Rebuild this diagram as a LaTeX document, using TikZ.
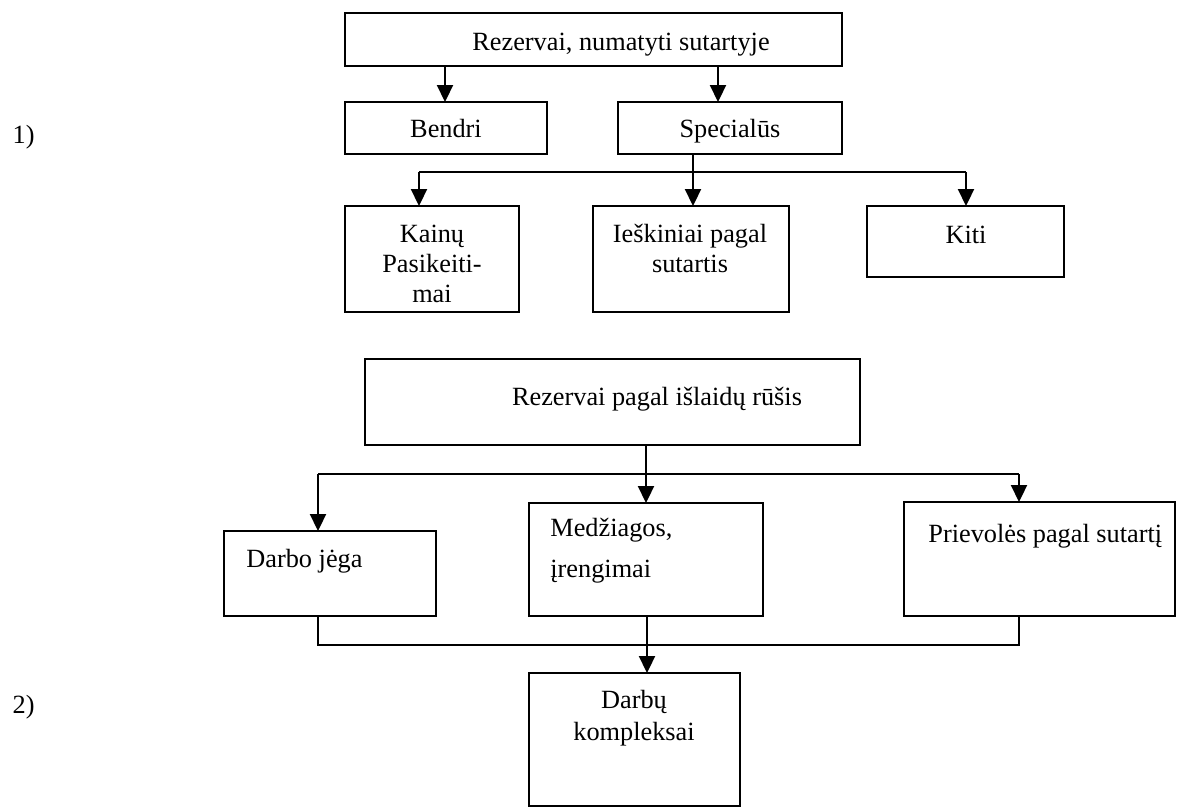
\documentclass[tikz,border=0pt]{standalone}
\usepackage{fontspec}
\setmainfont{Liberation Serif}
\usetikzlibrary{arrows.meta}
% rectangle node given by its corners: name, x1, y1, x2, y2
\newcommand{\boxat}[5]{%
  \node[box, minimum width={(#4-#2)*0.5pt}, minimum height={(#5-#3)*0.5pt}]
    (#1) at ({(#2+#4)/2},{(#3+#5)/2}) {};}
\begin{document}
\begin{tikzpicture}[x=0.5pt,y=-0.5pt,
  box/.style={draw, line width=1.1pt, inner sep=0pt, outer sep=0pt},
  txt/.style={inner sep=0pt, anchor=base, font=\fontsize{13.15}{15}\selectfont},
  link/.style={line width=1.1pt},
  thinlink/.style={line width=0.8pt},
  arr/.style={link, -{Triangle[width=8pt,length=8.5pt]}}]
\useasboundingbox (0,0) rectangle (1177,810);

% ---- 1) reserves defined in the contract
\boxat{A}{345}{13}{842}{66}
\boxat{Be}{345}{102}{547}{154}
\boxat{Sp}{618}{102}{842}{154}
\boxat{Ka}{345}{206}{519}{312}
\boxat{Ie}{593}{206}{789}{312}
\boxat{Ki}{867}{206}{1064}{277}

\node[txt] (tA)  at (621,50)  {Rezervai, numatyti sutartyje};
\node[txt] (tBe) at (446,137) {Bendri};
\node[txt] (tSp) at (730,137) {Specialūs};
\node[txt] (tK1) at (432,242) {Kainų};
\node[txt] (tK2) at (432,272) {Pasikeiti-};
\node[txt] (tK3) at (432,302) {mai};
\node[txt] (tI1) at (690,242) {Ieškiniai pagal};
\node[txt] (tI2) at (690,272) {sutartis};
\node[txt] (tKi) at (966,243) {Kiti};

\coordinate (xBe) at (445,0);
\coordinate (xSp) at (718,0);
\coordinate (bus1) at (693,172);
\coordinate (xKa) at (419,0);
\coordinate (xKi) at (966,0);

\draw[arr] (A.south -| xBe) -- (Be.north -| xBe);
\draw[arr] (A.south -| xSp) -- (Sp.north -| xSp);
\draw[link] (bus1 -| xKa) -- (bus1 -| xKi);
\draw[arr] (Sp.south -| bus1) -- (Ie.north -| bus1);
\draw[arr] (bus1 -| xKa) -- (Ka.north -| xKa);
\draw[arr] (bus1 -| xKi) -- (Ki.north -| xKi);

% ---- 2) reserves by cost type
\boxat{B}{365}{359}{860}{445}
\boxat{Da}{224}{531}{436}{616}
\boxat{Me}{529}{503}{763}{616}
\boxat{Pr}{904}{502}{1175}{616}
\boxat{Dk}{529}{673}{740}{806}

\node[txt] (tB)   at (657,405) {Rezervai pagal išlaidų rūšis};
\node[txt, anchor=base west] (tDa) at (246,567) {Darbo jėga};
\node[txt, anchor=base west] (tM1) at (550,536) {Medžiagos,};
\node[txt, anchor=base west] (tM2) at (550,577) {įrengimai};
\node[txt, anchor=base west] (tPr) at (928,542) {Prievolės pagal sutartį};
\node[txt] (tDk1) at (634,708) {Darbų};
\node[txt] (tDk2) at (634,740) {kompleksai};

\coordinate (bus2) at (646,474);
\coordinate (bus3) at (647,645);
\coordinate (xDa) at (318,0);
\coordinate (xPr) at (1019,0);

\draw[link] (bus2 -| xDa) -- (bus2 -| xPr);
\draw[arr] (B.south -| bus2) -- (Me.north -| bus2);
\draw[arr] (bus2 -| xDa) -- (Da.north -| xDa);
\draw[arr] (bus2 -| xPr) -- (Pr.north -| xPr);
\draw[thinlink] (Da.south -| xDa) -- (bus3 -| xDa) -- (bus3 -| xPr) -- (Pr.south -| xPr);
\draw[arr] (Me.south -| bus3) -- (Dk.north -| bus3);

% ---- item numbers
\node[txt, anchor=base east] (n1) at (35,143) {1)};
\node[txt, anchor=base east] (n2) at (35,713) {2)};
\end{tikzpicture}
\end{document}
